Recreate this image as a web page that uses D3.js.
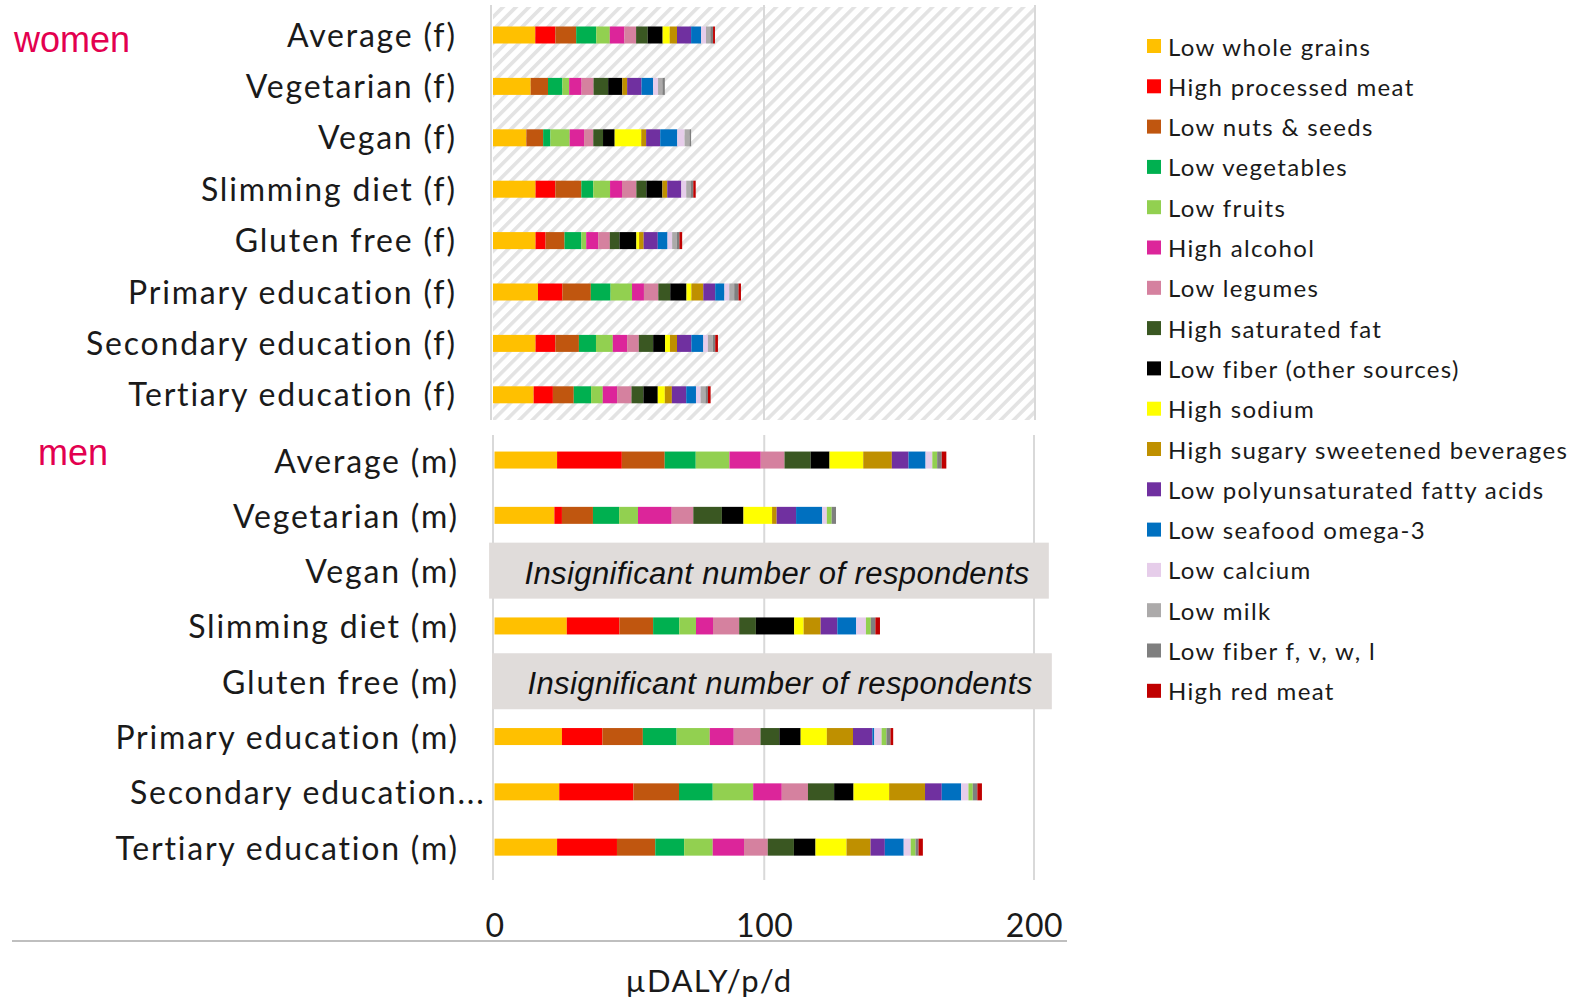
<!DOCTYPE html>
<html><head><meta charset="utf-8">
<script src="https://cdn.jsdelivr.net/npm/d3@7"></script>
<style>body{margin:0;background:#fff} svg{display:block}</style>
</head><body><svg id="c" width="1572" height="1003"></svg>
<script>
// ---------- DATA ----------
const seriesNames = ["Low whole grains","High processed meat","Low nuts & seeds","Low vegetables","Low fruits","High alcohol","Low legumes","High saturated fat","Low fiber (other sources)","High sodium","High sugary sweetened beverages","Low polyunsaturated fatty acids","Low seafood omega-3","Low calcium","Low milk","Low fiber f, v, w, l","High red meat"];
const seriesColors = ["#ffc000","#ff0000","#c0560f","#00b050","#92d050","#dc259a","#d5819f","#3a5722","#000000","#ffff00","#bf9000","#7030a0","#0070c0","#e6cdea","#acaaaa","#7f7f7f","#c00000"];
const menColorOverrides = {"Low milk":"#92d050"};

const womenCategories = ["Average (f)","Vegetarian (f)","Vegan (f)","Slimming diet (f)","Gluten free (f)","Primary education (f)","Secondary education (f)","Tertiary education (f)"];
const menCategories = ["Average (m)","Vegetarian (m)","Vegan (m)","Slimming diet (m)","Gluten free (m)","Primary education (m)","Secondary education...","Tertiary education (m)"];

const fAverage    = [15.6,7.4,7.7,7.4,5.0,5.4,4.3,4.3,5.5,2.6,2.7,5.2,3.7,1.8,1.6,1.0,0.7];
const fVegetarian = [13.9,0,6.4,5.3,2.5,4.6,4.4,5.4,5.2,0,1.8,5.3,4.3,1.8,1.6,0.9,0];
const fVegan      = [12.3,0,6.2,2.7,7.1,5.3,3.4,3.6,4.3,9.8,1.8,5.2,6.3,2.7,1.8,0.6,0];
const fSlimming   = [15.7,7.3,9.6,4.4,6.2,4.4,5.3,3.7,5.9,0,1.8,5.2,0,1.8,1.6,1.0,0.9];
const fGlutenFree = [15.7,3.7,7.0,6.2,1.8,4.4,4.3,3.6,6.2,1.0,1.7,5.2,3.6,1.7,1.7,1.0,1.0];
const fPrimary    = [16.6,9.0,10.5,7.3,7.9,4.4,5.3,4.4,6.0,1.8,4.4,4.4,3.4,1.8,1.8,1.6,0.9];
const fSecondary  = [15.7,7.3,8.7,6.3,6.2,5.3,4.3,5.3,4.4,1.8,2.6,5.3,4.4,1.7,1.8,0.9,1.0];
const fTertiary   = [15.0,7.1,7.7,6.4,4.3,5.3,5.3,4.4,5.3,2.6,2.6,5.3,3.6,1.7,1.8,0.9,1.0];

const mAverage    = [23.2,24.0,15.9,11.5,12.5,11.6,8.8,9.7,7.0,12.5,10.6,6.2,6.3,2.5,1.8,1.7,1.7];
const mVegetarian = [22.2,2.8,11.5,9.7,7.0,12.5,8.0,10.6,8.0,10.6,1.7,7.2,9.7,1.7,1.8,1.6,0];
const mVegan      = null;
const mSlimming   = [26.8,19.5,12.5,9.7,6.2,6.3,9.7,6.2,14.2,3.5,6.3,6.2,7.0,3.6,1.8,1.7,1.7];
const mGlutenFree = null;
const mPrimary    = [25.0,15.0,15.0,12.5,12.3,8.9,9.9,7.0,7.9,9.7,9.7,7.2,0.7,2.7,1.8,1.5,1.0];
const mSecondary  = [24.0,27.5,16.9,12.5,15.0,10.6,9.7,9.7,7.2,13.2,13.3,6.2,7.2,2.7,1.6,1.7,1.7];
const mTertiary   = [23.2,22.2,14.2,10.7,10.6,11.6,8.8,9.7,8.0,11.5,8.9,5.3,7.0,2.6,1.8,1.1,1.6];

const xTicks = [0,100,200];
const noDataText = "Insignificant number of respondents";
const axisTitle = "µDALY/p/d";
const groupLabels = ["women","men"];

// ---------- BUILD ----------
const womenValues = [fAverage,fVegetarian,fVegan,fSlimming,fGlutenFree,fPrimary,fSecondary,fTertiary];
const menValues = [mAverage,mVegetarian,mVegan,mSlimming,mGlutenFree,mPrimary,mSecondary,mTertiary];

const svg = d3.select("#c");
const labelFont = "Lato, 'Open Sans', sans-serif";
const txtColor = "#1a1a1a";

const xW = d3.scaleLinear().domain([0,200]).range([493,1035]);
const xM = d3.scaleLinear().domain([0,200]).range([494.5,1034]);
const yW = d3.scalePoint().domain(womenCategories).range([9.3,420.5]).padding(0.5);
const yM = d3.scalePoint().domain(menCategories).range([432.4,874.8]).padding(0.5);
const barH = 17;

const defs = svg.append("defs");
const pat = defs.append("pattern").attr("id","hatch").attr("patternUnits","userSpaceOnUse")
  .attr("width",9.2).attr("height",9.2).attr("patternTransform","rotate(45)");
pat.append("rect").attr("x",0).attr("y",0).attr("width",3.6).attr("height",9.2).attr("fill","#e3e3e3");

svg.append("rect").attr("x",xW(0)).attr("y",7).attr("width",xW(200)-xW(0)).attr("height",413).attr("fill","url(#hatch)");
svg.append("g").selectAll("line").data(xTicks).join("line")
  .attr("x1",d=>d===0?491:xW(d)).attr("x2",d=>d===0?491:xW(d)).attr("y1",5).attr("y2",420)
  .attr("stroke","#d9d9d9").attr("stroke-width",2);
svg.append("g").selectAll("line").data(xTicks).join("line")
  .attr("x1",d=>d===0?493:xM(d)).attr("x2",d=>d===0?493:xM(d)).attr("y1",435).attr("y2",880)
  .attr("stroke","#d9d9d9").attr("stroke-width",2);

function stackRows(cats, vals){
  const rows = cats.map((c,i)=>{const o={cat:c,valid:vals[i]!==null}; seriesNames.forEach((s,j)=>o[s]=vals[i]?vals[i][j]:0); return o;});
  return {rows, stacked: d3.stack().keys(seriesNames)(rows)};
}

function drawBars(cats, vals, x, y, colorFor){
  const {rows, stacked} = stackRows(cats, vals);
  const g = svg.append("g");
  g.selectAll("g").data(stacked).join("g").attr("fill",d=>colorFor(d.key))
    .selectAll("rect").data(d=>d.filter(p=>p.data.valid && p[1]>p[0])).join("rect")
    .attr("x",d=>x(d[0])).attr("width",d=>x(d[1])-x(d[0]))
    .attr("y",d=>y(d.data.cat)-barH/2).attr("height",barH);
  return rows;
}

drawBars(womenCategories, womenValues, xW, yW, k=>seriesColors[seriesNames.indexOf(k)]);
const menRows = drawBars(menCategories, menValues, xM, yM, k=>menColorOverrides[k]||seriesColors[seriesNames.indexOf(k)]);

const nd = svg.append("g").selectAll("g").data(menRows.filter(r=>!r.valid)).join("g");
nd.append("rect").attr("x",(d,i)=>xM(-2)+i*3).attr("width",xM(205.5)-xM(-2)).attr("y",d=>yM(d.cat)-28).attr("height",56).attr("fill","#e0dcda");
nd.append("text").attr("x",(d,i)=>777+i*3).attr("y",d=>yM(d.cat)+5).attr("text-anchor","middle").attr("dominant-baseline","middle")
  .attr("font-family","'Liberation Sans', Arial, sans-serif").attr("font-style","italic").attr("font-size",31)
  .attr("letter-spacing",0.4).attr("fill","#111").text(noDataText);

svg.append("g").selectAll("text").data(womenCategories).join("text")
  .attr("x",456.8).attr("y",d=>yW(d)-1).attr("text-anchor","end").attr("dominant-baseline","central")
  .attr("font-family",labelFont).attr("font-size",32).attr("letter-spacing",1.8).attr("fill",txtColor).text(d=>d);
svg.append("g").selectAll("text").data(menCategories).join("text")
  .attr("x",d=>d.endsWith("...")?485.5:458.8).attr("y",d=>yM(d)).attr("text-anchor","end").attr("dominant-baseline","central")
  .attr("font-family",labelFont).attr("font-size",32).attr("letter-spacing",1.8).attr("fill",txtColor).text(d=>d);

svg.append("text").attr("x",14).attr("y",52).attr("font-family","'Liberation Sans', Arial, sans-serif").attr("font-size",36).attr("fill","#e3004f").text(groupLabels[0]);
svg.append("text").attr("x",38).attr("y",465).attr("font-family","'Liberation Sans', Arial, sans-serif").attr("font-size",36).attr("fill","#e3004f").text(groupLabels[1]);

const xAxis = d3.axisBottom(xM).tickValues(xTicks).tickSize(0).tickPadding(0);
const ax = svg.append("g").attr("transform","translate(0,914)").call(xAxis);
ax.select(".domain").remove();
ax.selectAll("text").attr("font-family",labelFont).attr("font-size",32).attr("letter-spacing",0.6).attr("fill",txtColor);
svg.append("line").attr("x1",12).attr("x2",1067).attr("y1",941).attr("y2",941).attr("stroke","#bfbfbf").attr("stroke-width",2);
svg.append("text").attr("x",709).attr("y",980).attr("text-anchor","middle").attr("dominant-baseline","central")
  .attr("font-family",labelFont).attr("font-size",31).attr("letter-spacing",1.4).attr("fill",txtColor).text(axisTitle);

const lg = svg.append("g").selectAll("g").data(seriesNames).join("g")
  .attr("transform",(d,i)=>`translate(1147,${46+i*40.3})`);
lg.append("rect").attr("x",0).attr("y",-7).attr("width",14).attr("height",14).attr("fill",(d,i)=>seriesColors[i]);
lg.append("text").attr("x",21).attr("y",0).attr("dominant-baseline","central")
  .attr("font-family",labelFont).attr("font-size",24).attr("letter-spacing",1.35).attr("fill",txtColor).text(d=>d);
</script>
</body></html>
